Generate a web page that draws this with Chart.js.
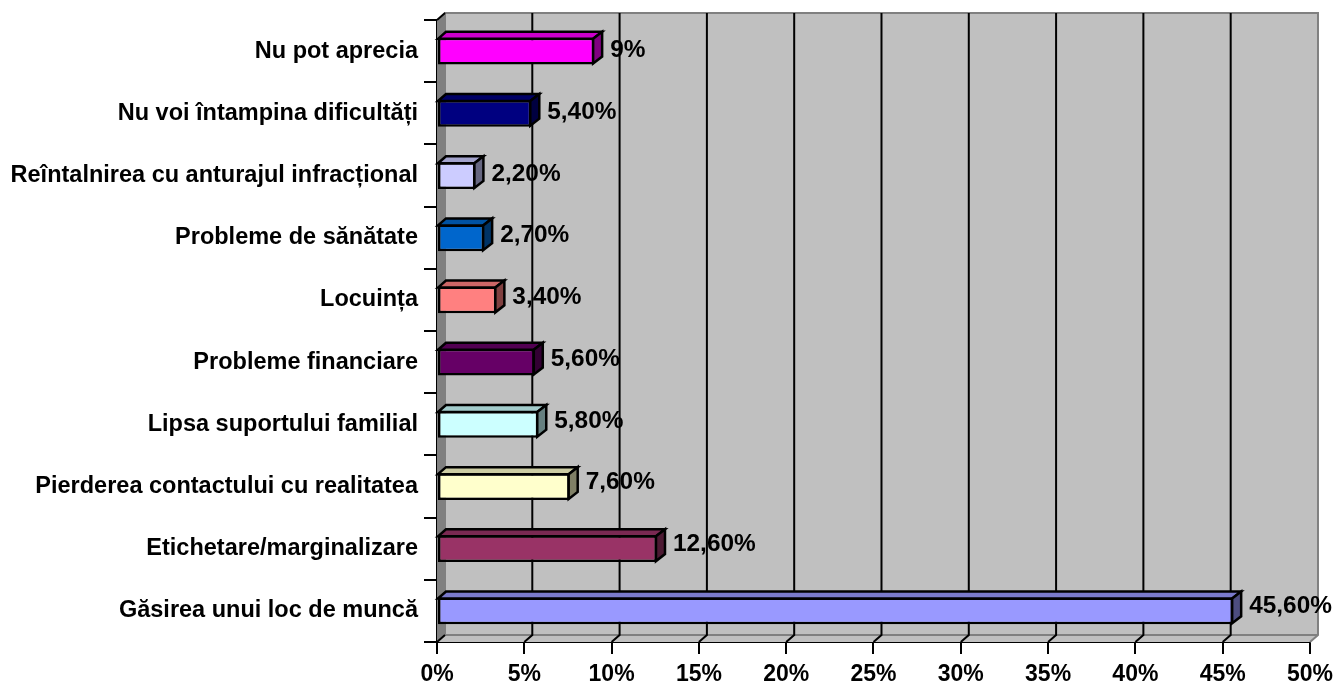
<!DOCTYPE html>
<html>
<head>
<meta charset="utf-8">
<style>
  html, body { margin: 0; padding: 0; background: #fff; }
  canvas { display: block; }
</style>
<script src="https://cdn.jsdelivr.net/npm/chart.js@4/dist/chart.umd.min.js"></script>
</head>
<body>
<canvas id="chart" width="1340" height="682"></canvas>
<script>
const categories = [
  "Nu pot aprecia",
  "Nu voi întampina dificultăți",
  "Reîntalnirea cu anturajul infracțional",
  "Probleme de sănătate",
  "Locuința",
  "Probleme financiare",
  "Lipsa suportului familial",
  "Pierderea contactului cu realitatea",
  "Etichetare/marginalizare",
  "Găsirea unui loc de muncă",
];
const values = [9, 5.4, 2.2, 2.7, 3.4, 5.6, 5.8, 7.6, 12.6, 45.6];
const valueLabels = ["9%", "5,40%", "2,20%", "2,70%", "3,40%", "5,60%", "5,80%", "7,60%", "12,60%", "45,60%"];
const frontColors = ["#FF00FF", "#000080", "#CCCCFF", "#0066CC", "#FF8080", "#660066", "#CCFFFF", "#FFFFCC", "#993366", "#9999FF"];
const topColors = ["#CC00CC", "#000066", "#A3A3CC", "#0052A3", "#CC6666", "#520052", "#A3CCCC", "#CCCCA3", "#7A2952", "#7A7ACC"];
const sideColors = ["#800080", "#000040", "#666680", "#003366", "#804040", "#330033", "#668080", "#808066", "#4D1A33", "#4D4D80"];
const xTickLabels = ["0%", "5%", "10%", "15%", "20%", "25%", "30%", "35%", "40%", "45%", "50%"];

const FAMILY = "'Liberation Sans', Arial, sans-serif";
const DX = 8; // depth of the 3d box
const DY = 7;

function poly(ctx, pts, fill, stroke, lw) {
  ctx.beginPath();
  pts.forEach((p, i) => (i ? ctx.lineTo(p[0], p[1]) : ctx.moveTo(p[0], p[1])));
  ctx.closePath();
  if (fill) { ctx.fillStyle = fill; ctx.fill(); }
  if (stroke) { ctx.strokeStyle = stroke; ctx.lineWidth = lw; ctx.stroke(); }
}

// back wall, side wall, floor and gridlines
const wallPlugin = {
  id: "wall",
  beforeDatasetsDraw(chart) {
    const { ctx, chartArea: a, scales } = chart;
    ctx.save();
    poly(ctx, [[a.left + DX, a.top - DY], [a.right + DX, a.top - DY], [a.right + DX, a.bottom - DY], [a.left + DX, a.bottom - DY]], "#C0C0C0");
    poly(ctx, [[a.left, a.top], [a.left + DX, a.top - DY], [a.left + DX, a.bottom - DY], [a.left, a.bottom]], "#808080");
    poly(ctx, [[a.left, a.bottom], [a.left + DX, a.bottom - DY], [a.right + DX, a.bottom - DY], [a.right, a.bottom]], "#C0C0C0");

    ctx.strokeStyle = "#808080";
    ctx.lineWidth = 2;
    ctx.beginPath();
    ctx.moveTo(a.left + DX, a.bottom - DY);
    ctx.lineTo(a.left + DX, a.top - DY);
    ctx.lineTo(a.right + DX, a.top - DY);
    ctx.lineTo(a.right + DX, a.bottom - DY);
    ctx.lineTo(a.right, a.bottom);
    ctx.moveTo(a.right + DX, a.bottom - DY);
    ctx.lineTo(a.left + DX, a.bottom - DY);
    ctx.stroke();

    ctx.strokeStyle = "#000";
    ctx.beginPath();
    ctx.moveTo(a.left, a.top);
    ctx.lineTo(a.left + DX, a.top - DY);
    ctx.moveTo(a.left, a.bottom);
    ctx.lineTo(a.left + DX, a.bottom - DY);
    scales.x.ticks.forEach((t, i) => {
      if (i === 0 || i === scales.x.ticks.length - 1) return;
      const x = scales.x.getPixelForTick(i);
      ctx.moveTo(x, a.bottom);
      ctx.lineTo(x + DX, a.bottom - DY);
      ctx.lineTo(x + DX, a.top - DY);
    });
    ctx.stroke();
    ctx.restore();
  },
  afterDatasetsDraw(chart) {
    const { ctx } = chart;
    const bars = chart.getDatasetMeta(0).data;
    ctx.save();
    ctx.lineJoin = "miter";
    bars.forEach((bar, i) => {
      const { x, y, base, height } = bar.getProps(["x", "y", "base", "height"], true);
      const t = y - height / 2 + 1;
      const b = y + height / 2 - 1;
      poly(ctx, [[base, t], [base + DX, t - DY], [x + DX, t - DY], [x - 1, t]], topColors[i], "#000", 2.5);
      poly(ctx, [[x - 1, t], [x + DX, t - DY], [x + DX, b - DY], [x - 1, b]], sideColors[i], "#000", 2.5);
    });
    ctx.font = "bold 24.4px " + FAMILY;
    ctx.fillStyle = "#000";
    ctx.textAlign = "left";
    ctx.textBaseline = "middle";
    bars.forEach((bar, i) => {
      // labels drift slightly upward towards the bottom of the original
      ctx.fillText(valueLabels[i], bar.x + 16, bar.y - 0.5 - i * 0.5);
    });
    ctx.restore();
  },
};

new Chart(document.getElementById("chart"), {
  type: "bar",
  data: {
    labels: categories,
    datasets: [{
      data: values,
      backgroundColor: frontColors,
      borderColor: "#000",
      borderWidth: 2.5,
      borderSkipped: false,
      categoryPercentage: 1,
      barPercentage: 0.43,
    }],
  },
  options: {
    indexAxis: "y",
    responsive: false,
    animation: false,
    layout: { padding: { top: 19, right: 30, left: 0, bottom: 0 } },
    plugins: { legend: { display: false }, tooltip: { enabled: false } },
    scales: {
      x: {
        min: 0,
        max: 50,
        afterFit(scale) { scale.height = 40; },
        border: { color: "#000", width: 2 },
        grid: { drawOnChartArea: false, drawTicks: true, tickLength: 12, color: "#000", lineWidth: 2 },
        ticks: {
          stepSize: 5,
          maxRotation: 0,
          autoSkip: false,
          padding: 7,
          color: "#000",
          font: { family: FAMILY, size: 23, weight: "bold" },
          callback: (v, i) => xTickLabels[i],
        },
      },
      y: {
        afterFit(scale) { scale.width = 437; },
        border: { color: "#000", width: 2 },
        grid: { drawOnChartArea: false, drawTicks: true, tickLength: 13, color: "#000", lineWidth: 2 },
        ticks: {
          autoSkip: false,
          padding: 6,
          color: "#000",
          font: { family: FAMILY, size: 23.5, weight: "bold" },
        },
      },
    },
  },
  plugins: [wallPlugin],
});
</script>
</body>
</html>
